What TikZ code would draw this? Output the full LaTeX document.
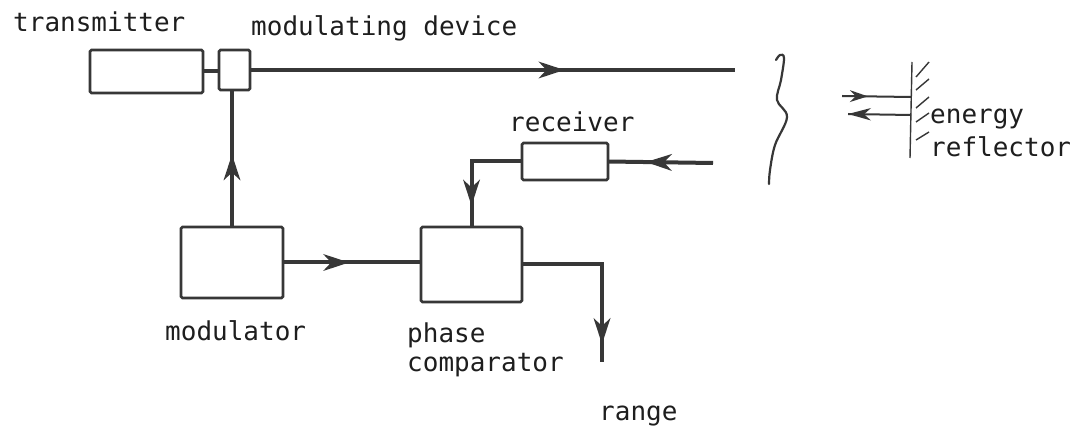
\documentclass[tikz,border=0pt]{standalone}
\usepackage{fontspec}
\setmonofont{DejaVu Sans Mono}
\usetikzlibrary{arrows.meta,decorations.markings}
\definecolor{ink}{RGB}{55,55,55}
\definecolor{txt}{RGB}{30,30,30}
\tikzset{
  box/.style={draw=ink,line width=2.6pt,rounded corners=1.5pt,inner sep=0pt,outer sep=0pt},
  conn/.style={draw=ink,line width=4pt},
  thin/.style={draw=ink,line width=1.4pt},
  lbl/.style={inner sep=0pt,anchor=base west,text=txt,font=\ttfamily\fontsize{26}{28}\selectfont},
  midarrow/.style={postaction={decorate},decoration={markings,
     mark=at position #1 with {\fill[ink] (4pt,0pt) -- (-22pt,8.5pt) -- (-14pt,0pt) -- (-22pt,-8.5pt) -- cycle;}}},
  smallarrow/.style={postaction={decorate},decoration={markings,
     mark=at position #1 with {\fill[ink] (3pt,0pt) -- (-15pt,6pt) -- (-9pt,0pt) -- (-15pt,-6pt) -- cycle;}}},
}
\begin{document}
\begin{tikzpicture}[x=1pt,y=-1pt]
\useasboundingbox[fill=white] (0,0) rectangle (1078,435);

% boxes
\node[box,minimum width=113pt,minimum height=43pt] (tx) at (146.5,71.5) {};
\node[box,minimum width=31pt,minimum height=40pt] (md) at (234.5,70) {};
\node[box,minimum width=102pt,minimum height=71pt] (mod) at (232,262.5) {};
\node[box,minimum width=101pt,minimum height=75pt] (pc) at (471.5,264.5) {};
\node[box,minimum width=86pt,minimum height=37pt] (rx) at (565,161.5) {};

% labels
\node[lbl] (ltx) at (13,32) {transmitter};
\node[lbl] (lmd) at (251,36) {modulating device};
\node[lbl] (lrx) at (509,132) {receiver};
\node[lbl] (len) at (930,124) {energy};
\node[lbl] (lre) at (930,157) {reflector};
\node[lbl] (lmod) at (165,340) {modulator};
\node[lbl] (lph) at (407,342) {phase};
\node[lbl] (lcomp) at (407,371) {comparator};
\node[lbl] (lrange) at (599,420) {range};

% free ends
\coordinate (beamend) at (735,70);
\coordinate (rxin) at (713,163);
\coordinate (rangeend) at (602,362);

% connectors
\draw[conn] (tx.east) -- (tx.east -| md.west);
\draw[conn,midarrow=0.64] (md.east) -- (beamend);
\draw[conn,midarrow=0.5] (mod.north) -- (mod.north |- md.south);
\draw[conn,midarrow=0.45] (mod.east) -- (mod.east -| pc.west);
\draw[conn,midarrow=0.78] (rx.west) -| (pc.north);
\draw[conn,midarrow=0.6] (rxin) -- (rx.east);
\draw[conn,midarrow=0.876] (pc.east) -| (rangeend);

% break mark
\draw[ink,line width=2.2pt,line cap=round] plot[smooth,tension=0.6] coordinates
  {(776,60) (780,55) (784,58) (781,80) (777,100) (787,117) (775,145) (770,170) (769,184)};

% energy reflector
\coordinate (wtop) at (912,62);
\coordinate (wbot) at (910,158);
\draw[thin] (wtop) -- (wbot);
\foreach \ya/\yb in {77/62, 90/79, 108/97, 122/113, 140/132}
  \draw[thin] (916,\ya) -- (929,\yb);
\coordinate (inA) at (842,96);
\coordinate (inB) at (911,97);
\coordinate (outA) at (911,115);
\coordinate (outB) at (848,114);
\draw[ink,line width=2pt,smallarrow=0.33] (inA) -- (inB);
\draw[ink,line width=2pt] (outA) -- (outB);
\fill[ink] (outB) -- (871,108) -- (864,114.3) -- (871,120.5) -- cycle;
\end{tikzpicture}
\end{document}
